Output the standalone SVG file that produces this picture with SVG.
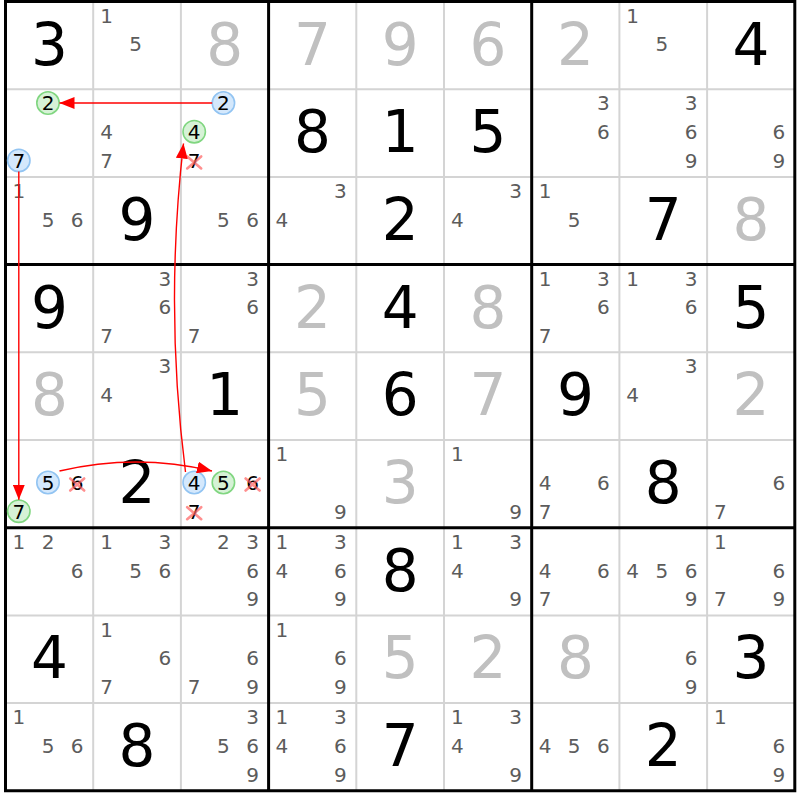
<svg xmlns="http://www.w3.org/2000/svg" width="800" height="800" viewBox="0 0 800 800">
<style>
text{font-family:"DejaVu Sans","Noto Sans",sans-serif;text-anchor:middle}
.c{font-size:20px;fill:#5c5c5c}
.h{font-size:20px;fill:#000}
.g{font-size:58px;fill:#000}
.p{font-size:58px;fill:#c0c0c0}
.thin{stroke:#d4d4d4;stroke-width:2}
.thick{stroke:#000;stroke-width:3}
.cb{fill:#d4e8fc;stroke:#92c4f2;stroke-width:1.6}
.cg{fill:#d6f2d6;stroke:#80d680;stroke-width:1.6}
.x{stroke:#ff6060;stroke-opacity:0.7;stroke-width:2.6;stroke-linecap:round}
.a{fill:none;stroke:#ff0000;stroke-width:1.4}
</style>
<defs>
<marker id="ah" viewBox="0 0 15 12" refX="15" refY="6" markerWidth="15" markerHeight="12" markerUnits="userSpaceOnUse" orient="auto">
<path d="M0,0 L15,6 L0,12 z" fill="#ff0000"/>
</marker>
</defs>
<rect x="0" y="0" width="800" height="800" fill="#fff"/>
<g transform="translate(-0.5,0)">
<g id="grid">
<path class="thin" d="M93.7,1.5V790.8M181.4,1.5V790.8M356.8,1.5V790.8M444.5,1.5V790.8M619.9,1.5V790.8M707.6,1.5V790.8M6,89.2H795.3M6,176.9H795.3M6,352.3H795.3M6,440H795.3M6,615.4H795.3M6,703.1H795.3"/>
<path class="thick" d="M6,0V792.3M269.1,1.5V790.8M532.2,1.5V790.8M795.3,0V792.3M4.5,1.5H796.8M6,264.6H795.3M6,527.7H795.3M4.5,790.8H796.8"/>
</g>
<g id="r0c0"><text class="g" x="49.85" y="64.5">3</text></g>
<g id="r0c1"><text class="c" x="107" y="22.6">1</text><text class="c" x="136.2" y="51.3">5</text></g>
<g id="r0c2"><text class="p" x="225.25" y="64.5">8</text></g>
<g id="r0c3"><text class="p" x="312.95" y="64.5">7</text></g>
<g id="r0c4"><text class="p" x="400.65" y="64.5">9</text></g>
<g id="r0c5"><text class="p" x="488.35" y="64.5">6</text></g>
<g id="r0c6"><text class="p" x="576.05" y="64.5">2</text></g>
<g id="r0c7"><text class="c" x="633.2" y="22.6">1</text><text class="c" x="662.4" y="51.3">5</text></g>
<g id="r0c8"><text class="g" x="751.45" y="64.5">4</text></g>

<g id="r1c0"><circle class="cg" cx="48.5" cy="103" r="11.2"/><text class="h" x="48.5" y="110.3">2</text><circle class="cb" cx="19.3" cy="160.4" r="11.2"/><text class="h" x="19.3" y="167.7">7</text></g>
<g id="r1c1"><text class="c" x="107" y="139">4</text><text class="c" x="107" y="167.7">7</text></g>
<g id="r1c2"><circle class="cb" cx="223.9" cy="103" r="11.2"/><text class="h" x="223.9" y="110.3">2</text><circle class="cg" cx="194.7" cy="131.7" r="11.2"/><text class="h" x="194.7" y="139">4</text><text class="h" x="194.7" y="167.7">7</text><path class="x" d="M187.7,156.4L201.7,168.4M201.7,156.4L187.7,168.4"/></g>
<g id="r1c3"><text class="g" x="312.95" y="152.2">8</text></g>
<g id="r1c4"><text class="g" x="400.65" y="152.2">1</text></g>
<g id="r1c5"><text class="g" x="488.35" y="152.2">5</text></g>
<g id="r1c6"><text class="c" x="603.9" y="110.3">3</text><text class="c" x="603.9" y="139">6</text></g>
<g id="r1c7"><text class="c" x="691.6" y="110.3">3</text><text class="c" x="691.6" y="139">6</text><text class="c" x="691.6" y="167.7">9</text></g>
<g id="r1c8"><text class="c" x="779.3" y="139">6</text><text class="c" x="779.3" y="167.7">9</text></g>

<g id="r2c0"><text class="c" x="19.3" y="198">1</text><text class="c" x="48.5" y="226.7">5</text><text class="c" x="77.7" y="226.7">6</text></g>
<g id="r2c1"><text class="g" x="137.55" y="239.9">9</text></g>
<g id="r2c2"><text class="c" x="223.9" y="226.7">5</text><text class="c" x="253.1" y="226.7">6</text></g>
<g id="r2c3"><text class="c" x="340.8" y="198">3</text><text class="c" x="282.4" y="226.7">4</text></g>
<g id="r2c4"><text class="g" x="400.65" y="239.9">2</text></g>
<g id="r2c5"><text class="c" x="516.2" y="198">3</text><text class="c" x="457.8" y="226.7">4</text></g>
<g id="r2c6"><text class="c" x="545.5" y="198">1</text><text class="c" x="574.7" y="226.7">5</text></g>
<g id="r2c7"><text class="g" x="663.75" y="239.9">7</text></g>
<g id="r2c8"><text class="p" x="751.45" y="239.9">8</text></g>

<g id="r3c0"><text class="g" x="49.85" y="327.6">9</text></g>
<g id="r3c1"><text class="c" x="165.4" y="285.7">3</text><text class="c" x="165.4" y="314.4">6</text><text class="c" x="107" y="343.1">7</text></g>
<g id="r3c2"><text class="c" x="253.1" y="285.7">3</text><text class="c" x="253.1" y="314.4">6</text><text class="c" x="194.7" y="343.1">7</text></g>
<g id="r3c3"><text class="p" x="312.95" y="327.6">2</text></g>
<g id="r3c4"><text class="g" x="400.65" y="327.6">4</text></g>
<g id="r3c5"><text class="p" x="488.35" y="327.6">8</text></g>
<g id="r3c6"><text class="c" x="545.5" y="285.7">1</text><text class="c" x="603.9" y="285.7">3</text><text class="c" x="603.9" y="314.4">6</text><text class="c" x="545.5" y="343.1">7</text></g>
<g id="r3c7"><text class="c" x="633.2" y="285.7">1</text><text class="c" x="691.6" y="285.7">3</text><text class="c" x="691.6" y="314.4">6</text></g>
<g id="r3c8"><text class="g" x="751.45" y="327.6">5</text></g>

<g id="r4c0"><text class="p" x="49.85" y="415.3">8</text></g>
<g id="r4c1"><text class="c" x="165.4" y="373.4">3</text><text class="c" x="107" y="402.1">4</text></g>
<g id="r4c2"><text class="g" x="225.25" y="415.3">1</text></g>
<g id="r4c3"><text class="p" x="312.95" y="415.3">5</text></g>
<g id="r4c4"><text class="g" x="400.65" y="415.3">6</text></g>
<g id="r4c5"><text class="p" x="488.35" y="415.3">7</text></g>
<g id="r4c6"><text class="g" x="576.05" y="415.3">9</text></g>
<g id="r4c7"><text class="c" x="691.6" y="373.4">3</text><text class="c" x="633.2" y="402.1">4</text></g>
<g id="r4c8"><text class="p" x="751.45" y="415.3">2</text></g>

<g id="r5c0"><circle class="cb" cx="48.5" cy="482.5" r="11.2"/><text class="h" x="48.5" y="489.8">5</text><text class="h" x="77.7" y="489.8">6</text><path class="x" d="M70.7,478.5L84.7,490.5M84.7,478.5L70.7,490.5"/><circle class="cg" cx="19.3" cy="511.2" r="11.2"/><text class="h" x="19.3" y="518.5">7</text></g>
<g id="r5c1"><text class="g" x="137.55" y="503">2</text></g>
<g id="r5c2"><circle class="cb" cx="194.7" cy="482.5" r="11.2"/><text class="h" x="194.7" y="489.8">4</text><circle class="cg" cx="223.9" cy="482.5" r="11.2"/><text class="h" x="223.9" y="489.8">5</text><text class="h" x="253.1" y="489.8">6</text><path class="x" d="M246.1,478.5L260.1,490.5M260.1,478.5L246.1,490.5"/><text class="h" x="194.7" y="518.5">7</text><path class="x" d="M187.7,507.2L201.7,519.2M201.7,507.2L187.7,519.2"/></g>
<g id="r5c3"><text class="c" x="282.4" y="461.1">1</text><text class="c" x="340.8" y="518.5">9</text></g>
<g id="r5c4"><text class="p" x="400.65" y="503">3</text></g>
<g id="r5c5"><text class="c" x="457.8" y="461.1">1</text><text class="c" x="516.2" y="518.5">9</text></g>
<g id="r5c6"><text class="c" x="545.5" y="489.8">4</text><text class="c" x="603.9" y="489.8">6</text><text class="c" x="545.5" y="518.5">7</text></g>
<g id="r5c7"><text class="g" x="663.75" y="503">8</text></g>
<g id="r5c8"><text class="c" x="779.3" y="489.8">6</text><text class="c" x="720.9" y="518.5">7</text></g>

<g id="r6c0"><text class="c" x="19.3" y="548.8">1</text><text class="c" x="48.5" y="548.8">2</text><text class="c" x="77.7" y="577.5">6</text></g>
<g id="r6c1"><text class="c" x="107" y="548.8">1</text><text class="c" x="165.4" y="548.8">3</text><text class="c" x="136.2" y="577.5">5</text><text class="c" x="165.4" y="577.5">6</text></g>
<g id="r6c2"><text class="c" x="223.9" y="548.8">2</text><text class="c" x="253.1" y="548.8">3</text><text class="c" x="253.1" y="577.5">6</text><text class="c" x="253.1" y="606.2">9</text></g>
<g id="r6c3"><text class="c" x="282.4" y="548.8">1</text><text class="c" x="340.8" y="548.8">3</text><text class="c" x="282.4" y="577.5">4</text><text class="c" x="340.8" y="577.5">6</text><text class="c" x="340.8" y="606.2">9</text></g>
<g id="r6c4"><text class="g" x="400.65" y="590.7">8</text></g>
<g id="r6c5"><text class="c" x="457.8" y="548.8">1</text><text class="c" x="516.2" y="548.8">3</text><text class="c" x="457.8" y="577.5">4</text><text class="c" x="516.2" y="606.2">9</text></g>
<g id="r6c6"><text class="c" x="545.5" y="577.5">4</text><text class="c" x="603.9" y="577.5">6</text><text class="c" x="545.5" y="606.2">7</text></g>
<g id="r6c7"><text class="c" x="633.2" y="577.5">4</text><text class="c" x="662.4" y="577.5">5</text><text class="c" x="691.6" y="577.5">6</text><text class="c" x="691.6" y="606.2">9</text></g>
<g id="r6c8"><text class="c" x="720.9" y="548.8">1</text><text class="c" x="779.3" y="577.5">6</text><text class="c" x="720.9" y="606.2">7</text><text class="c" x="779.3" y="606.2">9</text></g>

<g id="r7c0"><text class="g" x="49.85" y="678.4">4</text></g>
<g id="r7c1"><text class="c" x="107" y="636.5">1</text><text class="c" x="165.4" y="665.2">6</text><text class="c" x="107" y="693.9">7</text></g>
<g id="r7c2"><text class="c" x="253.1" y="665.2">6</text><text class="c" x="194.7" y="693.9">7</text><text class="c" x="253.1" y="693.9">9</text></g>
<g id="r7c3"><text class="c" x="282.4" y="636.5">1</text><text class="c" x="340.8" y="665.2">6</text><text class="c" x="340.8" y="693.9">9</text></g>
<g id="r7c4"><text class="p" x="400.65" y="678.4">5</text></g>
<g id="r7c5"><text class="p" x="488.35" y="678.4">2</text></g>
<g id="r7c6"><text class="p" x="576.05" y="678.4">8</text></g>
<g id="r7c7"><text class="c" x="691.6" y="665.2">6</text><text class="c" x="691.6" y="693.9">9</text></g>
<g id="r7c8"><text class="g" x="751.45" y="678.4">3</text></g>

<g id="r8c0"><text class="c" x="19.3" y="724.2">1</text><text class="c" x="48.5" y="752.9">5</text><text class="c" x="77.7" y="752.9">6</text></g>
<g id="r8c1"><text class="g" x="137.55" y="766.1">8</text></g>
<g id="r8c2"><text class="c" x="253.1" y="724.2">3</text><text class="c" x="223.9" y="752.9">5</text><text class="c" x="253.1" y="752.9">6</text><text class="c" x="253.1" y="781.6">9</text></g>
<g id="r8c3"><text class="c" x="282.4" y="724.2">1</text><text class="c" x="340.8" y="724.2">3</text><text class="c" x="282.4" y="752.9">4</text><text class="c" x="340.8" y="752.9">6</text><text class="c" x="340.8" y="781.6">9</text></g>
<g id="r8c4"><text class="g" x="400.65" y="766.1">7</text></g>
<g id="r8c5"><text class="c" x="457.8" y="724.2">1</text><text class="c" x="516.2" y="724.2">3</text><text class="c" x="457.8" y="752.9">4</text><text class="c" x="516.2" y="781.6">9</text></g>
<g id="r8c6"><text class="c" x="545.5" y="752.9">4</text><text class="c" x="574.7" y="752.9">5</text><text class="c" x="603.9" y="752.9">6</text></g>
<g id="r8c7"><text class="g" x="663.75" y="766.1">2</text></g>
<g id="r8c8"><text class="c" x="720.9" y="724.2">1</text><text class="c" x="779.3" y="752.9">6</text><text class="c" x="779.3" y="781.6">9</text></g>

<g id="connectors">
<path class="a" d="M212.7,103L60,103" marker-end="url(#ah)"/>
<path class="a" d="M19.3,171.6L19.3,499.8" marker-end="url(#ah)"/>
<path class="a" d="M186,472Q165,308 184,143.5" marker-end="url(#ah)"/>
<path class="a" d="M60,471Q137,453 212.5,471" marker-end="url(#ah)"/>
</g>
</g>
</svg>
